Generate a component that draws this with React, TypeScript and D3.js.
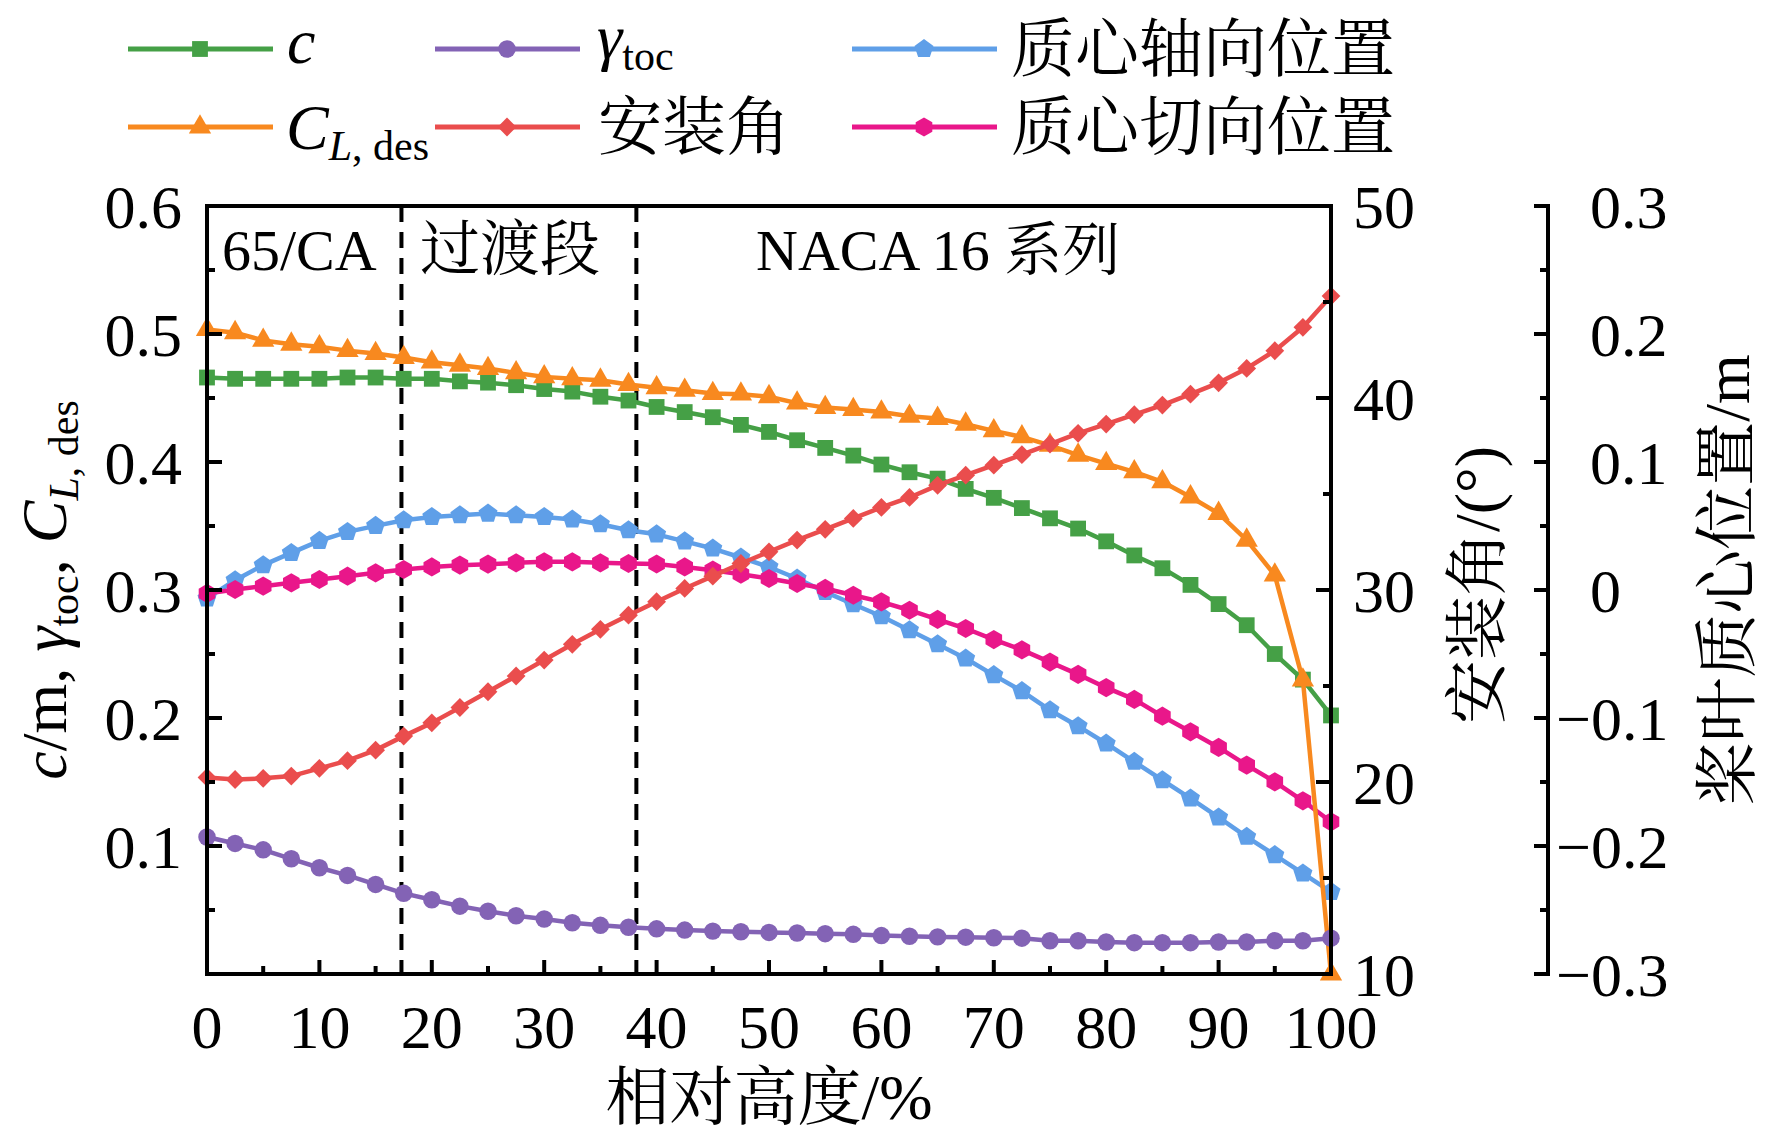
import React from 'react';
import * as d3 from 'd3';

// relative blade height, %
const heights = [0, 2.5, 5, 7.5, 10, 12.5, 15, 17.5, 20, 22.5, 25, 27.5, 30, 32.5, 35, 37.5, 40, 42.5, 45, 47.5, 50,
  52.5, 55, 57.5, 60, 62.5, 65, 67.5, 70, 72.5, 75, 77.5, 80, 82.5, 85, 87.5, 90, 92.5, 95, 97.5, 100];

// left axis
const chord = [0.466, 0.465, 0.465, 0.465, 0.465, 0.466, 0.466, 0.465, 0.465, 0.463, 0.462, 0.46, 0.457, 0.455, 0.451,
  0.448, 0.443, 0.439, 0.435, 0.429, 0.4235, 0.417, 0.411, 0.405, 0.398, 0.392, 0.387, 0.379, 0.372, 0.364, 0.356,
  0.348, 0.338, 0.327, 0.317, 0.304, 0.289, 0.2725, 0.25, 0.23, 0.202];
const clDes = [0.5035, 0.501, 0.495, 0.492, 0.49, 0.487, 0.4847, 0.4816, 0.478, 0.4756, 0.473, 0.4696, 0.4665, 0.465,
  0.4639, 0.4605, 0.458, 0.456, 0.4535, 0.453, 0.451, 0.446, 0.4425, 0.441, 0.439, 0.4357, 0.434, 0.4295, 0.4243,
  0.4196, 0.413, 0.4053, 0.3988, 0.3923, 0.3845, 0.3727, 0.3598, 0.3389, 0.3116, 0.2296, 0];
const gammaToc = [0.107, 0.102, 0.097, 0.09, 0.083, 0.077, 0.07, 0.063, 0.058, 0.053, 0.049, 0.0455, 0.043, 0.04,
  0.038, 0.0365, 0.0353, 0.0343, 0.0335, 0.033, 0.0325, 0.032, 0.0315, 0.031, 0.03, 0.0295, 0.029, 0.0288, 0.0283,
  0.028, 0.026, 0.026, 0.025, 0.0245, 0.0245, 0.0245, 0.025, 0.025, 0.026, 0.026, 0.028];

// right axis, degrees
const stagger = [20.24, 20.13, 20.19, 20.31, 20.71, 21.11, 21.66, 22.39, 23.08, 23.88, 24.7, 25.52, 26.35, 27.17,
  27.95, 28.69, 29.39, 30.08, 30.72, 31.38, 31.99, 32.6, 33.16, 33.73, 34.3, 34.82, 35.45, 35.98, 36.5, 37.05, 37.6,
  38.16, 38.64, 39.13, 39.63, 40.2, 40.79, 41.54, 42.46, 43.68, 45.31];

// third axis, m
const axialCg = [-0.0066, 0.0077, 0.0194, 0.029, 0.0384, 0.0454, 0.0501, 0.0545, 0.0571, 0.0584, 0.0597, 0.0584,
  0.0571, 0.0551, 0.0514, 0.0467, 0.0435, 0.038, 0.0324, 0.0254, 0.018, 0.009, -0.0015, -0.0111, -0.0205, -0.0314,
  -0.0423, -0.0535, -0.0665, -0.079, -0.0939, -0.1064, -0.1199, -0.1342, -0.1486, -0.1628, -0.1777, -0.1928,
  -0.2071, -0.2214, -0.2358];
const tangCg = [-0.0027, 0.0004, 0.003, 0.0056, 0.0082, 0.0108, 0.0134, 0.016, 0.018, 0.0194, 0.0202, 0.0212, 0.022,
  0.022, 0.0212, 0.0207, 0.0203, 0.018, 0.0155, 0.0123, 0.009, 0.0051, 0.0012, -0.0041, -0.0093, -0.0158, -0.023,
  -0.0301, -0.0387, -0.0468, -0.0563, -0.0659, -0.0763, -0.0855, -0.0986, -0.1108, -0.123, -0.1368, -0.1499,
  -0.1647, -0.1811];

// section boundaries, %
const sections = [17.3, 38.2];

const W = 1772, H = 1138;
const L = 207, R = 1331, T = 206, B = 974;
const AX3 = 1548;
const serif = "'Liberation Serif', 'Times New Roman', 'Noto Serif CJK SC', 'Noto Sans CJK SC', serif";

const polygon = (n: number, rot: number) => ({
  draw(ctx: any, size: number) {
    const r = Math.sqrt(size);
    for (let i = 0; i < n; i++) {
      const a = rot + (i * 2 * Math.PI) / n;
      const px = r * Math.sin(a), py = -r * Math.cos(a);
      if (i === 0) ctx.moveTo(px, py); else ctx.lineTo(px, py);
    }
    ctx.closePath();
  },
});

const x = d3.scaleLinear().domain([0, 100]).range([L, R]);
const yL = d3.scaleLinear().domain([0, 0.6]).range([B, T]);
const yR = d3.scaleLinear().domain([10, 50]).range([B, T]);
const yC = d3.scaleLinear().domain([-0.3, 0.3]).range([B, T]);

const series = [
  { key: 'axial', values: axialCg, y: yC, color: '#5f9fe8', sym: polygon(5, 0), size: 100 },
  { key: 'tang', values: tangCg, y: yC, color: '#e9178a', sym: polygon(6, 0), size: 92 },
  { key: 'c', values: chord, y: yL, color: '#45a046', sym: d3.symbolSquare, size: 250 },
  { key: 'cl', values: clDes, y: yL, color: '#f8891f', sym: d3.symbolTriangle, size: 215 },
  { key: 'gamma', values: gammaToc, y: yL, color: '#8363b5', sym: d3.symbolCircle, size: 240 },
  { key: 'stagger', values: stagger, y: yR, color: '#ea4d4d', sym: d3.symbolDiamond2, size: 225 },
];
const byKey = Object.fromEntries(series.map((s) => [s.key, s]));

const fmt1 = d3.format('.1f');
const fmt3 = (v: number) => (Math.abs(v) < 1e-9 ? '0' : (v < 0 ? '\u2212' : '') + fmt1(Math.abs(v)));

const LegendItem = ({ k, x0, y0, children }: any) => {
  const s = byKey[k];
  const path = d3.symbol().type(s.sym as any).size(s.size)() || '';
  return (
    <g>
      <line x1={x0} x2={x0 + 145} y1={y0} y2={y0} stroke={s.color} strokeWidth={5} />
      <path d={path} transform={`translate(${x0 + 72},${y0})`} fill={s.color} />
      {children}
    </g>
  );
};

export default function App() {
  const xMajor = d3.range(0, 101, 10);
  const xMinor = d3.range(5, 100, 10);
  const lMajor = yL.ticks(6);
  const lMinor = d3.range(0.05, 0.6, 0.1);
  const rMajor = yR.ticks(4);
  const rMinor = d3.range(15, 50, 10);
  const cMajor = yC.ticks(6);
  const cMinor = d3.range(-0.25, 0.3, 0.1);

  return (
    <svg width={W} height={H} style={{ position: 'absolute', left: 0, top: 0, background: '#fff' }}
      fontFamily={serif}>
      <rect width={W} height={H} fill="#fff" />

      {/* section boundaries */}
      {sections.map((s) => (
        <line key={s} x1={x(s)} x2={x(s)} y1={T} y2={B} stroke="#000" strokeWidth={4} strokeDasharray="16 10" />
      ))}
      <text x={222} y={270} fontSize={58}>65/CA</text>
      <text x={420} y={270} fontSize={60}>过渡段</text>
      <text x={756} y={270} fontSize={58}>NACA 16 系列</text>

      {/* series */}
      {series.map((s) => {
        const line = d3.line<number>().x((_, i) => x(heights[i])).y((v) => s.y(v));
        const sym = d3.symbol().type(s.sym as any).size(s.size)() || '';
        return (
          <g key={s.key}>
            <path d={line(s.values) || ''} fill="none" stroke={s.color} strokeWidth={4.5} strokeLinejoin="round" />
            {s.values.map((v, i) => (
              <path key={i} d={sym} transform={`translate(${x(heights[i])},${s.y(v)})`} fill={s.color} />
            ))}
          </g>
        );
      })}

      {/* frame */}
      <rect x={L} y={T} width={R - L} height={B - T} fill="none" stroke="#000" strokeWidth={4} />

      {/* bottom axis */}
      {xMajor.map((t) => <line key={'xm' + t} x1={x(t)} x2={x(t)} y1={B} y2={B - 14} stroke="#000" strokeWidth={4} />)}
      {xMinor.map((t) => <line key={'xn' + t} x1={x(t)} x2={x(t)} y1={B} y2={B - 8} stroke="#000" strokeWidth={4} />)}
      {xMajor.map((t) => (
        <text key={'xl' + t} x={x(t)} y={1048} fontSize={62} textAnchor="middle">{t}</text>
      ))}
      <text x={(L + R) / 2} y={1097} fontSize={64} textAnchor="middle" dominantBaseline="central">相对高度/%</text>

      {/* left axis */}
      {lMajor.map((t) => <line key={'lm' + t} x1={L} x2={L + 15} y1={yL(t)} y2={yL(t)} stroke="#000" strokeWidth={4} />)}
      {lMinor.map((t) => <line key={'ln' + t} x1={L} x2={L + 8} y1={yL(t)} y2={yL(t)} stroke="#000" strokeWidth={4} />)}
      {lMajor.filter((t) => t > 0).map((t) => (
        <text key={'ll' + t} x={182} y={yL(t)} dy="0.35em" fontSize={62} textAnchor="end">{fmt1(t)}</text>
      ))}
      <text transform="translate(66,590) rotate(-90)" fontSize={64} textAnchor="middle">
        <tspan fontStyle="italic">c</tspan>/m, <tspan fontStyle="italic">γ</tspan>
        <tspan fontSize={42} dy={12}>toc</tspan>
        <tspan dy={-12}>, </tspan>
        <tspan fontStyle="italic">C</tspan>
        <tspan fontSize={42} dy={12}><tspan fontStyle="italic">L</tspan>, des</tspan>
      </text>

      {/* right axis: stagger angle */}
      {rMajor.map((t) => <line key={'rm' + t} x1={R} x2={R - 15} y1={yR(t)} y2={yR(t)} stroke="#000" strokeWidth={4} />)}
      {rMinor.map((t) => <line key={'rn' + t} x1={R} x2={R - 8} y1={yR(t)} y2={yR(t)} stroke="#000" strokeWidth={4} />)}
      {rMajor.map((t) => (
        <text key={'rl' + t} x={1353} y={yR(t)} dy="0.35em" fontSize={62}>{t}</text>
      ))}
      <text transform="translate(1477,585) rotate(-90)" fontSize={64} textAnchor="middle" dominantBaseline="central">
        安装角/(°)
      </text>

      {/* third axis: centre of gravity position */}
      <line x1={AX3} x2={AX3} y1={T - 2} y2={B + 2} stroke="#000" strokeWidth={4} />
      {cMajor.map((t) => <line key={'cm' + t} x1={AX3} x2={AX3 - 14} y1={yC(t)} y2={yC(t)} stroke="#000" strokeWidth={4} />)}
      {cMinor.map((t) => <line key={'cn' + t} x1={AX3} x2={AX3 - 8} y1={yC(t)} y2={yC(t)} stroke="#000" strokeWidth={4} />)}
      {cMajor.map((t) => (
        <text key={'cl' + t} x={t < -1e-9 ? 1556 : 1590} y={yC(t)} dy="0.35em" fontSize={62}>{fmt3(t)}</text>
      ))}
      <text transform="translate(1727,580) rotate(-90)" fontSize={64} textAnchor="middle" dominantBaseline="central">
        桨叶质心位置/m
      </text>

      {/* legend */}
      <LegendItem k="c" x0={128} y0={49}>
        <text x={287} y={63} fontSize={64} fontStyle="italic">c</text>
      </LegendItem>
      <LegendItem k="cl" x0={128} y0={127}>
        <text x={286} y={149} fontSize={64}>
          <tspan fontStyle="italic">C</tspan>
          <tspan fontSize={42} dy={11}><tspan fontStyle="italic">L</tspan>, des</tspan>
        </text>
      </LegendItem>
      <LegendItem k="gamma" x0={435} y0={49}>
        <text x={597} y={58} fontSize={64}>
          <tspan fontStyle="italic">γ</tspan>
          <tspan fontSize={42} dy={12}>toc</tspan>
        </text>
      </LegendItem>
      <LegendItem k="stagger" x0={435} y0={127}>
        <text x={598} y={127} fontSize={64} dominantBaseline="central">安装角</text>
      </LegendItem>
      <LegendItem k="axial" x0={852} y0={49}>
        <text x={1011} y={49} fontSize={64} dominantBaseline="central">质心轴向位置</text>
      </LegendItem>
      <LegendItem k="tang" x0={852} y0={127}>
        <text x={1011} y={127} fontSize={64} dominantBaseline="central">质心切向位置</text>
      </LegendItem>
    </svg>
  );
}
